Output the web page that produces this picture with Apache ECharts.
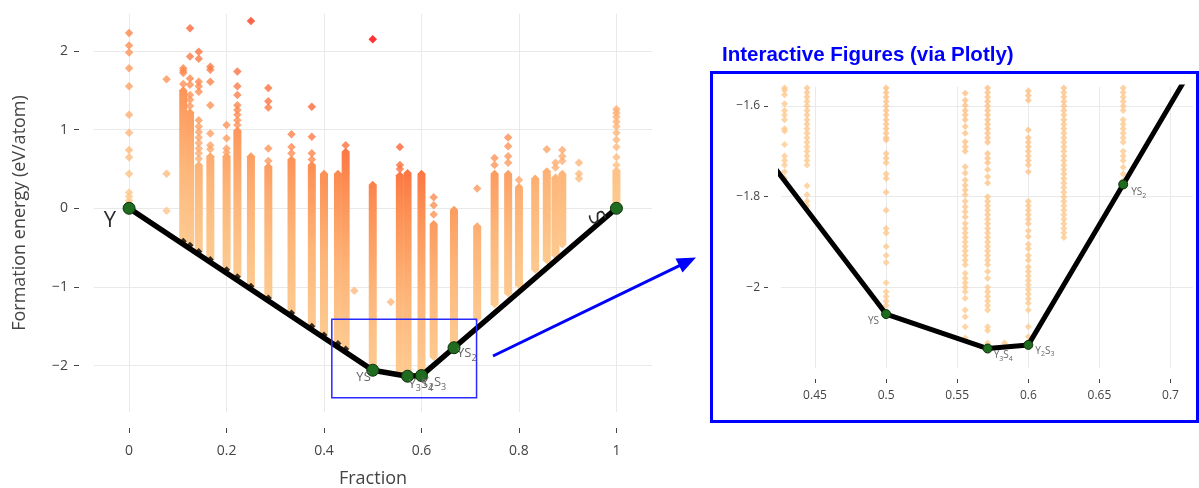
<!DOCTYPE html>
<html>
<head>
<meta charset="utf-8">
<script src="https://cdn.jsdelivr.net/npm/echarts@6/dist/echarts.min.js"></script>
<style>
  html, body { margin: 0; padding: 0; background: #ffffff; }
  #chart { width: 1199px; height: 488px; }
</style>
</head>
<body>
<div id="chart"></div>
<script>
// Convex hull of the Y–S system: fraction of S vs formation energy (eV/atom)
const hullFrac = [0, 0.5, 0.5714, 0.6, 0.6667, 1];
const hullEnergy = [0, -2.059, -2.135, -2.127, -1.773, 0];
const hullNames = ['Y', 'YS', 'Y3S4', 'Y2S3', 'YS2', 'S'];

// Compositions with many entries: fraction, lowest and highest energy of the stack
const colFrac = [0.1111, 0.125, 0.1429, 0.1667, 0.2, 0.2222, 0.25, 0.2857, 0.3333, 0.375,
  0.4, 0.4286, 0.4444, 0.5, 0.5556, 0.5714, 0.6, 0.625, 0.6667, 0.7143,
  0.75, 0.7778, 0.8, 0.8333, 0.8571, 0.875, 0.8889, 1];
const colLow = [-0.42, -0.47, -0.55, -0.65, -0.78, -0.87, -0.99, -1.14, -1.33, -1.50,
  -1.61, -1.72, -1.79, -2.02, -2.08, -2.10, -2.09, -1.89, -1.74, -1.40,
  -1.22, -1.08, -0.98, -0.78, -0.66, -0.60, -0.46, 0.02];
const colHigh = [1.50, 1.22, 0.55, 0.66, 0.66, 0.99, 0.66, 0.53, 0.62, 0.55,
  0.44, 0.44, 0.72, 0.30, 0.42, 0.45, 0.44, -0.20, -0.02, -0.23,
  0.44, 0.44, 0.27, 0.38, 0.47, 0.39, 0.44, 0.48];

// Isolated higher-energy entries
const outFrac = [
  0, 0, 0, 0, 0, 0, 0, 0, 0, 0, 0, 0, 0, 0,
  0.0769, 0.0769, 0.0769,
  0.1111, 0.1111, 0.1111, 0.1111,
  0.125, 0.125, 0.125, 0.125, 0.125, 0.125, 0.125,
  0.1429, 0.1429, 0.1429, 0.1429, 0.1429, 0.1429, 0.1429, 0.1429, 0.1429, 0.1429, 0.1429, 0.1429, 0.1429,
  0.1667, 0.1667, 0.1667, 0.1667, 0.1667, 0.1667, 0.1667,
  0.2, 0.2, 0.2, 0.2,
  0.2222, 0.2222, 0.2222, 0.2222, 0.2222, 0.2222, 0.2222, 0.2222,
  0.25,
  0.2857, 0.2857, 0.2857, 0.2857, 0.2857,
  0.3333, 0.3333, 0.3333,
  0.375, 0.375, 0.375, 0.375,
  0.4444, 0.462, 0.5, 0.537,
  0.5556, 0.5556, 0.5556,
  0.625, 0.625, 0.625,
  0.7143, 0.75, 0.75,
  0.7778, 0.7778, 0.7778, 0.7778,
  0.8, 0.8571, 0.875, 0.875,
  0.8889, 0.8889, 0.8889,
  0.9231, 0.9231, 0.9231,
  1, 1, 1, 1, 1, 1, 1, 1, 1, 1
];
const outEnergy = [
  2.23, 2.07, 1.98, 1.78, 1.55, 1.19, 0.96, 0.74, 0.65, 0.44, 0.20, 0.15, 0.10, 0.06,
  1.64, 0.44, -0.03,
  1.78, 1.75, 1.72, 1.58,
  2.29, 1.93, 1.65, 1.57, 1.44, 1.38, 1.30,
  1.99, 1.90, 1.61, 1.55, 1.48, 1.12, 1.04, 0.97, 0.90, 0.83, 0.76, 0.70, 0.63,
  1.80, 1.76, 1.61, 1.31, 0.95, 0.80, 0.75,
  1.06, 0.89, 0.76, 0.71,
  1.74, 1.55, 1.44, 1.31, 1.25, 1.19, 1.12, 1.06,
  2.38,
  1.53, 1.36, 1.28, 0.76, 0.60,
  0.94, 0.78, 0.70,
  1.29, 0.91, 0.70, 0.62,
  0.80, -1.05, 2.15, -1.19,
  0.78, 0.55, 0.50,
  0.14, 0.04, -0.08,
  0.25, 0.64, 0.55,
  0.90, 0.79, 0.66, 0.58,
  0.36, 0.75, 0.58, 0.52,
  0.74, 0.66, 0.60,
  0.58, 0.44, 0.38,
  1.26, 1.21, 1.16, 1.10, 1.04, 0.96, 0.87, 0.78, 0.65, 0.55
];

// Entries close to the hull, shown in the enlarged panel
const zoomFracs = [0.4286, 0.4444, 0.5, 0.5556, 0.5714, 0.6, 0.625, 0.6667, 0.5833];
const zoomEnergies = [
  [-1.56, -1.565, -1.575, -1.595, -1.61, -1.62, -1.63, -1.65, -1.655, -1.685, -1.71, -1.72, -1.73, -1.745, -1.76],
  [-1.56, -1.57, -1.58, -1.59, -1.60, -1.61, -1.62, -1.63, -1.64, -1.65, -1.66, -1.67, -1.68, -1.69, -1.70,
   -1.71, -1.72, -1.73, -1.776, -1.796, -1.81, -1.82],
  [-1.56, -1.57, -1.58, -1.59, -1.60, -1.61, -1.62, -1.63, -1.64, -1.65, -1.66, -1.67, -1.675, -1.705, -1.715,
   -1.725, -1.75, -1.76, -1.79, -1.83, -1.87, -1.88, -1.91, -1.93, -1.945, -1.99, -2.01, -2.02, -2.03, -2.04],
  [-1.557, -1.572, -1.587, -1.598, -1.61, -1.62, -1.63, -1.645, -1.66, -1.679, -1.69, -1.70, -1.734, -1.748,
   -1.763, -1.775, -1.785, -1.796, -1.81, -1.822, -1.833, -1.845, -1.859, -1.87, -1.88, -1.89, -1.90, -1.91,
   -1.92, -1.93, -1.94, -1.95, -1.969, -1.98, -1.99, -2.00, -2.01, -2.024, -2.05, -2.065, -2.087, -2.112],
  [-1.56, -1.57, -1.58, -1.59, -1.60, -1.61, -1.62, -1.63, -1.64, -1.65, -1.66, -1.67, -1.68, -1.705, -1.715,
   -1.725, -1.74, -1.756, -1.77, -1.80, -1.81, -1.82, -1.83, -1.84, -1.85, -1.86, -1.87, -1.88, -1.89, -1.90,
   -1.91, -1.92, -1.93, -1.94, -1.95, -1.965, -1.98, -2.00, -2.01, -2.02, -2.03, -2.04, -2.05, -2.087, -2.095, -2.123],
  [-1.557, -1.567, -1.577, -1.587, -1.653, -1.67, -1.68, -1.69, -1.70, -1.71, -1.72, -1.73, -1.745, -1.81, -1.82,
   -1.83, -1.84, -1.85, -1.86, -1.875, -1.888, -1.905, -1.915, -1.93, -1.94, -1.955, -1.965, -1.975, -1.985,
   -1.995, -2.005, -2.015, -2.025, -2.035, -2.05, -2.087, -2.109],
  [-1.56, -1.57, -1.58, -1.59, -1.60, -1.61, -1.62, -1.63, -1.64, -1.65, -1.66, -1.67, -1.68, -1.69, -1.70,
   -1.71, -1.72, -1.73, -1.74, -1.75, -1.76, -1.77, -1.78, -1.79, -1.80, -1.81, -1.82, -1.83, -1.84, -1.85,
   -1.86, -1.87, -1.88, -1.89],
  [-1.56, -1.57, -1.58, -1.59, -1.60, -1.61, -1.63, -1.64, -1.65, -1.66, -1.67, -1.68, -1.70, -1.71, -1.72,
   -1.735, -1.75, -1.765],
  [-2.123]
];

// Axis ticks
const xTicksMain = [0, 0.2, 0.4, 0.6, 0.8, 1];
const yTicksMain = [-2, -1, 0, 1, 2];
const xTicksZoom = [0.45, 0.5, 0.55, 0.6, 0.65, 0.7];
const yTicksZoom = [-2, -1.8, -1.6];

// Region of the main plot that is enlarged in the panel: [x0, x1], [y0, y1]
const zoomBoxX = [0.416, 0.713];
const zoomBoxY = [-1.41, -2.41];

const FONT = '"Open Sans", "Noto Sans", sans-serif';
const TICK_COLOR = '#444';

// Energy of the hull at a given fraction (used for colouring by energy above hull)
function hullAt(x) {
  for (let i = 0; i < hullFrac.length - 1; i++) {
    if (x <= hullFrac[i + 1]) {
      const t = (x - hullFrac[i]) / (hullFrac[i + 1] - hullFrac[i]);
      return hullEnergy[i] + t * (hullEnergy[i + 1] - hullEnergy[i]);
    }
  }
  return hullEnergy[hullEnergy.length - 1];
}

// Colour scale for energy above hull
const heatE = [0, 1, 2, 3, 4.2];
const heatRGB = [[253, 204, 146], [253, 182, 122], [252, 146, 86], [250, 96, 52], [255, 0, 0]];
function heat(e) {
  e = Math.max(0, Math.min(heatE[heatE.length - 1], e));
  let i = 0;
  while (i < heatE.length - 2 && e > heatE[i + 1]) i++;
  const t = (e - heatE[i]) / (heatE[i + 1] - heatE[i]);
  const c = heatRGB[i].map((v, k) => Math.round(v + t * (heatRGB[i + 1][k] - v)));
  return 'rgb(' + c.join(',') + ')';
}

function fmtTick(v) {
  const s = String(Math.round(v * 100) / 100);
  return s.replace('-', '\u2212');
}

// Chemical formula as rich text with subscripts
function formula(name) {
  return name.replace(/([A-Za-z]+)|(\d+)/g, (m, a, d) => a ? '{b|' + a + '}' : '{s|' + d + '}');
}

// Label placement for each hull point
const mainLabelPlace = {
  Y:    { position: 'inside', align: 'right', verticalAlign: 'middle', offset: [-13, 12] },
  YS:   { position: 'inside', align: 'right', verticalAlign: 'middle', offset: [-2, 7] },
  Y3S4: { position: 'inside', align: 'left', verticalAlign: 'middle', offset: [1, 8] },
  Y2S3: { position: 'inside', align: 'left', verticalAlign: 'middle', offset: [0, 7] },
  YS2:  { position: 'inside', align: 'left', verticalAlign: 'middle', offset: [3, 6] },
  S:    { position: [-14, 16], align: 'center', verticalAlign: 'middle', rotate: -65 }
};
const zoomLabelPlace = {
  Y:    { show: false },
  YS:   { position: 'inside', align: 'right', verticalAlign: 'middle', offset: [-7, 7] },
  Y3S4: { position: 'inside', align: 'left', verticalAlign: 'middle', offset: [6, 7] },
  Y2S3: { position: 'inside', align: 'left', verticalAlign: 'middle', offset: [7, 6] },
  YS2:  { position: 'inside', align: 'left', verticalAlign: 'middle', offset: [8, 8] },
  S:    { show: false }
};

function hullData(place) {
  return hullFrac.map((f, i) => ({
    name: hullNames[i],
    value: [f, hullEnergy[i]],
    label: place[hullNames[i]]
  }));
}

const bandData = colFrac.map((f, i) => [f, colLow[i], colHigh[i]]);
const outData = outFrac.map((f, i) => [f, outEnergy[i]]);
const spikeData = colFrac.map((f, i) => [f, colLow[i]]).filter(d => d[0] < 0.5);
const zoomData = [];
zoomFracs.forEach((f, i) => zoomEnergies[i].forEach(e => zoomData.push([f, e])));

function valueAxis(opts) {
  return Object.assign({
    type: 'value',
    axisLine: { show: false, onZero: false },
    splitLine: { show: true, lineStyle: { color: '#e9e9e9', width: 1 } },
    nameTextStyle: { fontFamily: FONT, fontSize: 18, color: '#444' }
  }, opts);
}

const option = {
  animation: false,
  backgroundColor: '#ffffff',
  grid: [
    { left: 94, top: 14, width: 558, height: 398, containLabel: false, outerBoundsMode: 'none' },
    { left: 781, top: 87, width: 412, height: 281, containLabel: false, outerBoundsMode: 'none' }
  ],
  xAxis: [
    valueAxis({
      gridIndex: 0, min: -0.072, max: 1.073, offset: 16,
      axisTick: { show: true, length: 5, customValues: xTicksMain, lineStyle: { color: TICK_COLOR } },
      axisLabel: { customValues: xTicksMain, formatter: fmtTick, margin: 16, fontFamily: FONT, fontSize: 14, color: TICK_COLOR },
      name: 'Fraction', nameLocation: 'middle', nameGap: 42
    }),
    valueAxis({
      gridIndex: 1, min: 0.4261, max: 0.7158, offset: 11,
      axisTick: { show: true, length: 4, customValues: xTicksZoom, lineStyle: { color: TICK_COLOR } },
      axisLabel: { customValues: xTicksZoom, formatter: fmtTick, margin: 11, fontFamily: FONT, fontSize: 12, color: TICK_COLOR }
    })
  ],
  yAxis: [
    valueAxis({
      gridIndex: 0, min: -2.59, max: 2.47, offset: 15,
      axisTick: { show: true, length: 5, customValues: yTicksMain, lineStyle: { color: TICK_COLOR } },
      axisLabel: { customValues: yTicksMain, formatter: fmtTick, margin: 11, fontFamily: FONT, fontSize: 14, color: TICK_COLOR },
      name: 'Formation energy (eV/atom)', nameLocation: 'middle', nameGap: 50
    }),
    valueAxis({
      gridIndex: 1, min: -2.178, max: -1.558, offset: 13,
      axisTick: { show: true, length: 4, customValues: yTicksZoom, lineStyle: { color: TICK_COLOR } },
      axisLabel: { customValues: yTicksZoom, formatter: fmtTick, margin: 8, fontFamily: FONT, fontSize: 12, color: TICK_COLOR }
    })
  ],
  series: [
    // stacks of entries at each composition
    {
      type: 'custom', xAxisIndex: 0, yAxisIndex: 0, z: 1, silent: true,
      data: bandData,
      renderItem(params, api) {
        const x = api.value(0), lo = api.value(1), hi = api.value(2);
        const top = api.coord([x, hi]);
        const bot = api.coord([x, lo]);
        const r = 4;
        const h0 = hullAt(x);
        const stops = [];
        for (let k = 0; k <= 8; k++) {
          const t = k / 8;
          stops.push({ offset: t, color: heat(hi - t * (hi - lo) - h0) });
        }
        return {
          type: 'polygon',
          shape: { points: [
            [top[0], top[1] - r], [top[0] + r, top[1]], [bot[0] + r, bot[1]],
            [bot[0], bot[1] + r], [bot[0] - r, bot[1]], [top[0] - r, top[1]]
          ] },
          style: { fill: new echarts.graphic.LinearGradient(0, 0, 0, 1, stops) }
        };
      }
    },
    // isolated entries
    {
      type: 'scatter', xAxisIndex: 0, yAxisIndex: 0, z: 2, silent: true,
      symbol: 'diamond', symbolSize: 8.5,
      data: outData,
      itemStyle: { color: p => heat(p.value[1] - hullAt(p.value[0])) }
    },
    // entries sitting right on the hull line
    {
      type: 'scatter', xAxisIndex: 0, yAxisIndex: 0, z: 3, silent: true,
      symbol: 'diamond', symbolSize: 7,
      data: spikeData,
      itemStyle: { color: '#000000' }
    },
    // hull (main plot)
    {
      type: 'line', xAxisIndex: 0, yAxisIndex: 0, z: 4,
      data: hullData(mainLabelPlace),
      lineStyle: { color: '#000000', width: 5.5 },
      symbol: 'circle', symbolSize: 12,
      itemStyle: { color: '#1f6b1f', borderColor: '#0c330c', borderWidth: 1 },
      label: {
        show: true,
        formatter: p => p.name.length === 1 ? '{L|' + p.name + '}' : formula(p.name),
        rich: {
          b: { fontFamily: FONT, fontSize: 13, color: '#666', lineHeight: 18, verticalAlign: 'middle' },
          s: { fontFamily: FONT, fontSize: 9, color: '#666', lineHeight: 18, verticalAlign: 'bottom' },
          L: { fontFamily: FONT, fontSize: 22, color: '#2b2b2b' }
        }
      }
    },
    // outline of the enlarged region
    {
      type: 'scatter', xAxisIndex: 0, yAxisIndex: 0, z: 6, data: [], silent: true,
      markArea: {
        silent: true, z: 6,
        itemStyle: { color: 'rgba(0,0,0,0)', borderColor: '#2a2aff', borderWidth: 1.5 },
        data: [[{ xAxis: zoomBoxX[0], yAxis: zoomBoxY[0] }, { xAxis: zoomBoxX[1], yAxis: zoomBoxY[1] }]]
      }
    },
    // near-hull entries (panel)
    {
      type: 'scatter', xAxisIndex: 1, yAxisIndex: 1, z: 2, silent: true,
      symbol: 'diamond', symbolSize: 7,
      data: zoomData,
      itemStyle: { color: p => heat(p.value[1] - hullAt(p.value[0])) }
    },
    // hull (panel)
    {
      type: 'line', xAxisIndex: 1, yAxisIndex: 1, z: 4,
      data: hullData(zoomLabelPlace),
      lineStyle: { color: '#000000', width: 5 },
      symbol: 'circle', symbolSize: 9,
      itemStyle: { color: '#1f6b1f', borderColor: '#0c330c', borderWidth: 1 },
      label: {
        show: true,
        formatter: p => formula(p.name),
        rich: {
          b: { fontFamily: FONT, fontSize: 10, color: '#666', lineHeight: 14, verticalAlign: 'middle' },
          s: { fontFamily: FONT, fontSize: 7, color: '#666', lineHeight: 14, verticalAlign: 'bottom' }
        }
      }
    }
  ],
  graphic: [
    {
      type: 'text', left: 722, top: 45, z: 100,
      style: {
        text: 'Interactive Figures (via Plotly)',
        font: 'bold 20.5px "Liberation Sans", Arial, sans-serif',
        fill: '#0000ff'
      }
    },
    {
      type: 'rect', z: 100, silent: true,
      shape: { x: 711.5, y: 72.5, width: 486, height: 349 },
      style: { fill: 'none', stroke: '#0000ff', lineWidth: 3 }
    },
    {
      type: 'line', z: 100, silent: true,
      shape: { x1: 493, y1: 356, x2: 680, y2: 265.3 },
      style: { stroke: '#0000ff', lineWidth: 3 }
    },
    {
      type: 'polygon', z: 100, silent: true,
      shape: { points: [[696, 257.5], [682.5, 272.5], [675.5, 258.5]] },
      style: { fill: '#0000ff' }
    }
  ]
};

const chart = echarts.init(document.getElementById('chart'), null, { renderer: 'canvas' });
chart.setOption(option);
</script>
</body>
</html>
